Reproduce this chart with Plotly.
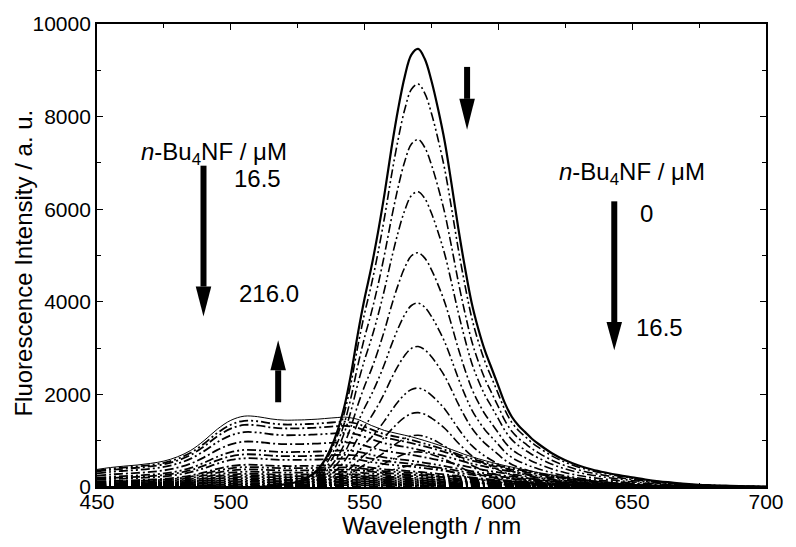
import plotly.graph_objects as go

# Wavelength grid (nm): finer steps across the main emission band
wavelength = (list(range(450, 525, 5))
              + [525 + 2.5 * k for k in range(36)]
              + list(range(615, 701, 5)))

# Normalised profile of the 569 nm emission band (peak = 1)
band_569 = [
    0, 0, 0, 0, 0, 0, 0, 0, 0, 0, 0, 0, 0, 0.002, 0.006,     # 450-520
    0.012, 0.018, 0.027, 0.04, 0.06, 0.09, 0.13, 0.185,      # 525-542.5
    0.26, 0.35, 0.43, 0.5, 0.58, 0.67, 0.77, 0.86,           # 545-562.5
    0.935, 0.985, 0.998, 0.975, 0.925, 0.86, 0.785, 0.69,    # 565-582.5
    0.59, 0.5, 0.42, 0.36, 0.31, 0.27, 0.23, 0.19,           # 585-602.5
    0.16, 0.14, 0.125, 0.11,                                 # 605-612.5
    0.098, 0.077, 0.061, 0.049, 0.04, 0.033, 0.027, 0.022,   # 615-650
    0.017, 0.013, 0.01, 0.007, 0.005, 0.004, 0.003, 0.002,   # 655-690
    0.0015, 0.001,                                           # 695-700
]

# Normalised profile of the 505/540 nm emission band (value at 505 nm = 1)
band_505 = [
    0.248, 0.275, 0.294, 0.31, 0.333, 0.366, 0.425,          # 450-480
    0.516, 0.654, 0.817, 0.941, 1.0, 0.993, 0.961, 0.944,    # 485-520
    0.946, 0.948, 0.953, 0.958, 0.966, 0.974, 0.981, 0.987,  # 525-542.5
    0.975, 0.954, 0.912, 0.869, 0.833, 0.797, 0.774, 0.752,  # 545-562.5
    0.731, 0.709, 0.682, 0.654, 0.625, 0.595, 0.562, 0.529,  # 565-582.5
    0.494, 0.458, 0.428, 0.399, 0.372, 0.346, 0.323, 0.301,  # 585-602.5
    0.281, 0.261, 0.241, 0.222,                              # 605-612.5
    0.204, 0.171, 0.141, 0.114, 0.09, 0.069, 0.051, 0.036,   # 615-650
    0.025, 0.017, 0.012, 0.008, 0.0055, 0.004, 0.003, 0.0022,  # 655-690
    0.0017, 0.0013,                                          # 695-700
]

# Intensity at 569 nm, n-Bu4NF 0 -> 16.5 uM
peaks_569 = [9480, 8720, 7520, 6390, 5070, 3980, 3040, 2140, 1610, 1120, 760, 470, 260]

# Intensity at 505 nm, n-Bu4NF 16.5 -> 216.0 uM (last = 216.0 uM)
peaks_505 = [20, 40, 60, 85, 110, 135, 160, 190, 220, 250, 285, 330, 380, 430, 480,
             620, 705, 800, 980, 1185, 1340, 1430, 1530]

dash_patterns = ["9px,3px,2px,3px", "9px,3px,2px,3px,2px,3px"]

fig = go.Figure()

# 16.5 -> 216.0 uM series
for i, p in enumerate(peaks_505):
    last = i == len(peaks_505) - 1
    fig.add_trace(go.Scatter(
        x=wavelength, y=[p * v for v in band_505], mode="lines",
        line=dict(color="black", width=1.0 if last else 1.8, shape="spline",
                  dash="solid" if last else dash_patterns[i % 2]),
        showlegend=False, hoverinfo="skip"))

# 0 -> 16.5 uM series
for i, p in enumerate(peaks_569):
    first = i == 0
    fig.add_trace(go.Scatter(
        x=wavelength, y=[p * v for v in band_569], mode="lines",
        line=dict(color="black", width=2.2 if first else 1.6, shape="spline",
                  dash="solid" if first else dash_patterns[i % 2]),
        showlegend=False, hoverinfo="skip"))

# Block arrows (shaft + head), in data coordinates: (x, y_tail, y_head_base, y_tip)
arrows = [
    (489.8, 6940, 4330, 3685),
    (517.7, 1830, 2520, 3170),
    (588.3, 9073, 8384, 7716),
    (643.3, 6170, 3563, 2953),
]
half_head = 2.9  # nm
for x0, y_tail, y_base, y_tip in arrows:
    fig.add_shape(type="line", x0=x0, x1=x0, y0=y_tail, y1=y_base,
                  line=dict(color="black", width=6), layer="above")
    fig.add_shape(type="path",
                  path=f"M {x0 - half_head},{y_base} L {x0 + half_head},{y_base} L {x0},{y_tip} Z",
                  fillcolor="black", line=dict(color="black", width=0), layer="above")

font_family = "Liberation Sans, Arial, sans-serif"
label_font = dict(family=font_family, size=24, color="black")
title_font = dict(family=font_family, size=24, color="black")
reagent = "<i>n</i>-Bu<sub>4</sub>NF / μM"


def px_to_paper(px, py):
    return (px - 97) / 679, (487 - py) / 464


texts = [
    (reagent, 216, 153),
    ("16.5", 260, 178),
    ("216.0", 272, 293),
    (reagent, 640, 173),
    ("0", 655, 213),
    ("16.5", 668, 327),
]
for t, px, py in texts:
    xp, yp = px_to_paper(px, py)
    fig.add_annotation(text=t, x=xp, y=yp, xref="paper", yref="paper",
                       showarrow=False, xanchor="center", yanchor="middle",
                       font=label_font)

# Axis titles
xp, yp = px_to_paper(436, 526)
fig.add_annotation(text="Wavelength / nm", x=xp, y=yp, xref="paper", yref="paper",
                   showarrow=False, xanchor="center", yanchor="middle", font=title_font)
xp, yp = px_to_paper(22, 263)
fig.add_annotation(text="Fluorescence Intensity / a. u.", x=xp, y=yp, xref="paper",
                   yref="paper", showarrow=False, xanchor="center", yanchor="middle",
                   textangle=-90, font=title_font)

axis_common = dict(
    showline=True, linewidth=1.8, linecolor="black", mirror="allticks",
    ticks="inside", ticklen=6, tickwidth=1.3, tickcolor="black",
    showgrid=False, zeroline=False, tickformat="d",
    tickfont=dict(family=font_family, size=21, color="black"),
)

fig.update_layout(
    width=796, height=547,
    margin=dict(l=97, r=20, t=23, b=60),
    plot_bgcolor="white", paper_bgcolor="white",
    xaxis=dict(range=[450, 700], tickvals=[450, 500, 550, 600, 650, 700],
               ticklabelstandoff=-5,
               minor=dict(dtick=25, tick0=450, ticks="inside", ticklen=4, tickcolor="black"),
               **axis_common),
    yaxis=dict(range=[0, 10000], dtick=2000,
               minor=dict(dtick=1000, ticks="inside", ticklen=4, tickcolor="black"),
               **axis_common),
)

fig.write_html("out.html")
